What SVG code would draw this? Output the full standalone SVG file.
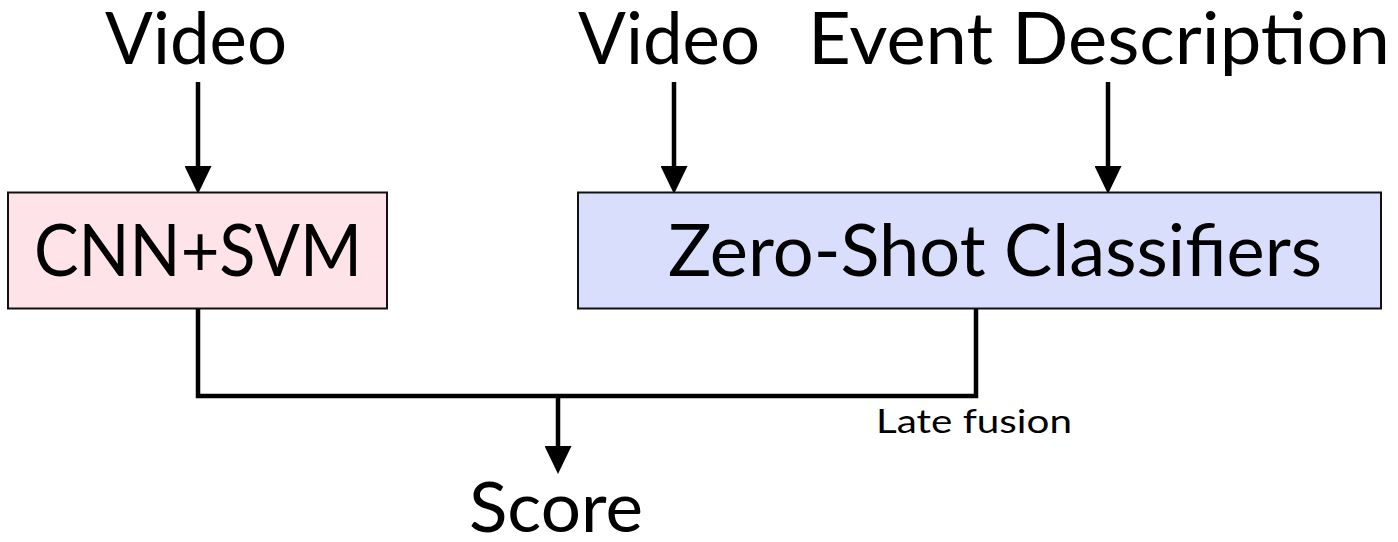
<svg xmlns="http://www.w3.org/2000/svg" width="1398" height="542" viewBox="0 0 1398 542">
  <defs>
    <marker id="arrow" markerUnits="userSpaceOnUse" markerWidth="28" markerHeight="27" viewBox="0 0 28 27" refX="0" refY="13.5" orient="auto">
      <path d="M0,0 L28,13.5 L0,27 Z" fill="#000"/>
    </marker>
    <style>
      .lbl { font-family: Lato, "Open Sans", "Liberation Sans", sans-serif; fill: #000; }
      .big { font-size: 72px; }
      .small { font-size: 32px; }
      .conn { fill: none; stroke: #000; stroke-width: 4.5; }
      .box { stroke: #111; stroke-width: 2; }
    </style>
  </defs>
  <rect width="1398" height="542" fill="#fff"/>

  <g id="connectors">
    <line class="conn" x1="198" y1="82" x2="198" y2="166" marker-end="url(#arrow)"/>
    <line class="conn" x1="674" y1="82" x2="674" y2="166" marker-end="url(#arrow)"/>
    <line class="conn" x1="1108" y1="82" x2="1108" y2="166" marker-end="url(#arrow)"/>
    <path class="conn" d="M198,309 V396 H976 V309" stroke-linejoin="miter"/>
    <line class="conn" x1="558" y1="396" x2="558" y2="446" marker-end="url(#arrow)"/>
  </g>

  <g id="input-video-1">
    <text class="lbl big" x="105" y="64" textLength="182" lengthAdjust="spacingAndGlyphs">Video</text>
  </g>
  <g id="input-video-2">
    <text class="lbl big" x="578" y="64" textLength="182" lengthAdjust="spacingAndGlyphs">Video</text>
  </g>
  <g id="input-event-description">
    <text class="lbl big" x="808" y="64" textLength="582" lengthAdjust="spacingAndGlyphs">Event Description</text>
  </g>

  <g id="cnn-svm">
    <rect class="box" x="8" y="192.5" width="379" height="116" fill="#FEE3E8"/>
    <text class="lbl big" x="34" y="276" textLength="328" lengthAdjust="spacingAndGlyphs">CNN+SVM</text>
  </g>

  <g id="zero-shot-classifiers">
    <rect class="box" x="578" y="192.5" width="803" height="116" fill="#D9DEFD"/>
    <text class="lbl big" x="668" y="276" textLength="654" lengthAdjust="spacingAndGlyphs">Zero-Shot Classifiers</text>
  </g>

  <g id="late-fusion-label">
    <text class="lbl small" x="876" y="433" textLength="196" lengthAdjust="spacingAndGlyphs">Late fusion</text>
  </g>

  <g id="score">
    <text class="lbl" font-size="69" x="469" y="532" textLength="174" lengthAdjust="spacingAndGlyphs">Score</text>
  </g>
</svg>
